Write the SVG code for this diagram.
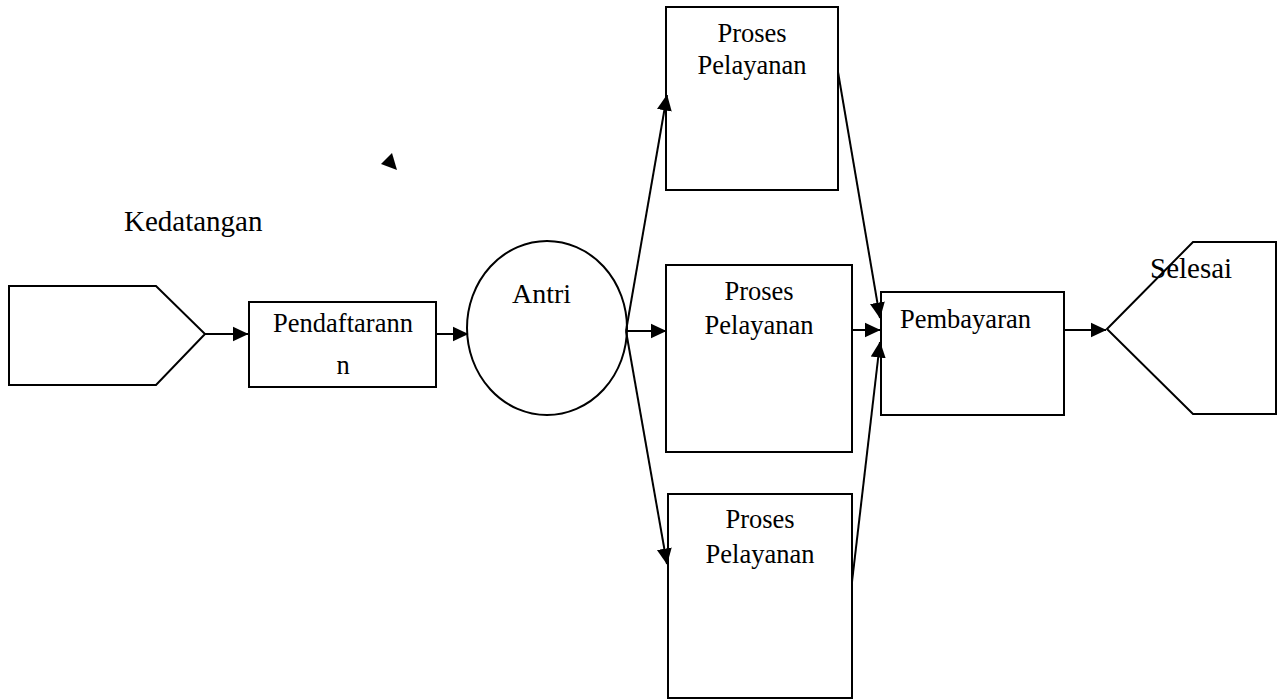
<svg xmlns="http://www.w3.org/2000/svg" width="1284" height="700" viewBox="0 0 1284 700">
<style>
.s{fill:#fff;stroke:#000;stroke-width:2}
.c{fill:none;stroke:#000;stroke-width:2}
.t{font-family:"Liberation Serif","Times New Roman",serif;font-size:26.5px;fill:#000}
.m{text-anchor:middle}
</style>
<defs>
<marker id="ah" markerUnits="userSpaceOnUse" markerWidth="16" markerHeight="16" viewBox="0 0 16 16" refX="15.5" refY="8" orient="auto">
<path d="M0,0.5 L16,8 L0,15.5 Z" fill="#000"/>
</marker>
</defs>
<rect width="1284" height="700" fill="#fff"/>
<g id="kedatangan">
<polygon class="s" points="9,286 156,286 205,334 156,385 9,385"/>
<text class="t" x="124" y="231" style="font-size:29px">Kedatangan</text>
</g>
<g id="pendaftaran">
<rect class="s" x="249" y="302" width="187" height="85"/>
<text class="t m" x="343" y="332">Pendaftarann</text>
<text class="t m" x="343" y="374">n</text>
</g>
<g id="antri">
<ellipse class="s" cx="547" cy="328" rx="80" ry="87"/>
<text class="t" x="512" y="303" style="font-size:28px">Antri</text>
</g>
<g id="proses1">
<rect class="s" x="666" y="7" width="172" height="183"/>
<text class="t m" x="752" y="42">Proses</text>
<text class="t m" x="752" y="74">Pelayanan</text>
</g>
<g id="proses2">
<rect class="s" x="666" y="265" width="186" height="187"/>
<text class="t m" x="759" y="300">Proses</text>
<text class="t m" x="759" y="334">Pelayanan</text>
</g>
<g id="proses3">
<rect class="s" x="668" y="494" width="184" height="204"/>
<text class="t m" x="760" y="528">Proses</text>
<text class="t m" x="760" y="563">Pelayanan</text>
</g>
<g id="pembayaran">
<rect class="s" x="881" y="292" width="183" height="123"/>
<text class="t" x="900" y="328">Pembayaran</text>
</g>
<g id="selesai">
<polygon class="s" points="1107,329 1193,242 1276,242 1276,414 1193,414"/>
<text class="t" x="1150" y="278" style="font-size:29px">Selesai</text>
</g>
<g id="connectors">
<line class="c" x1="205" y1="334" x2="248" y2="334" marker-end="url(#ah)"/>
<line class="c" x1="436" y1="334" x2="468" y2="334" marker-end="url(#ah)"/>
<line class="c" x1="626" y1="331" x2="666" y2="331" marker-end="url(#ah)"/>
<line class="c" x1="626" y1="331" x2="667" y2="95" marker-end="url(#ah)"/>
<line class="c" x1="626" y1="331" x2="667" y2="564" marker-end="url(#ah)"/>
<line class="c" x1="838" y1="72" x2="880" y2="318" marker-end="url(#ah)"/>
<line class="c" x1="852" y1="330" x2="880" y2="330" marker-end="url(#ah)"/>
<line class="c" x1="852" y1="582" x2="880" y2="342" marker-end="url(#ah)"/>
<line class="c" x1="1064" y1="330" x2="1106" y2="330" marker-end="url(#ah)"/>
<polygon points="381,164 392,153 397,170" fill="#000"/>
</g>
</svg>
